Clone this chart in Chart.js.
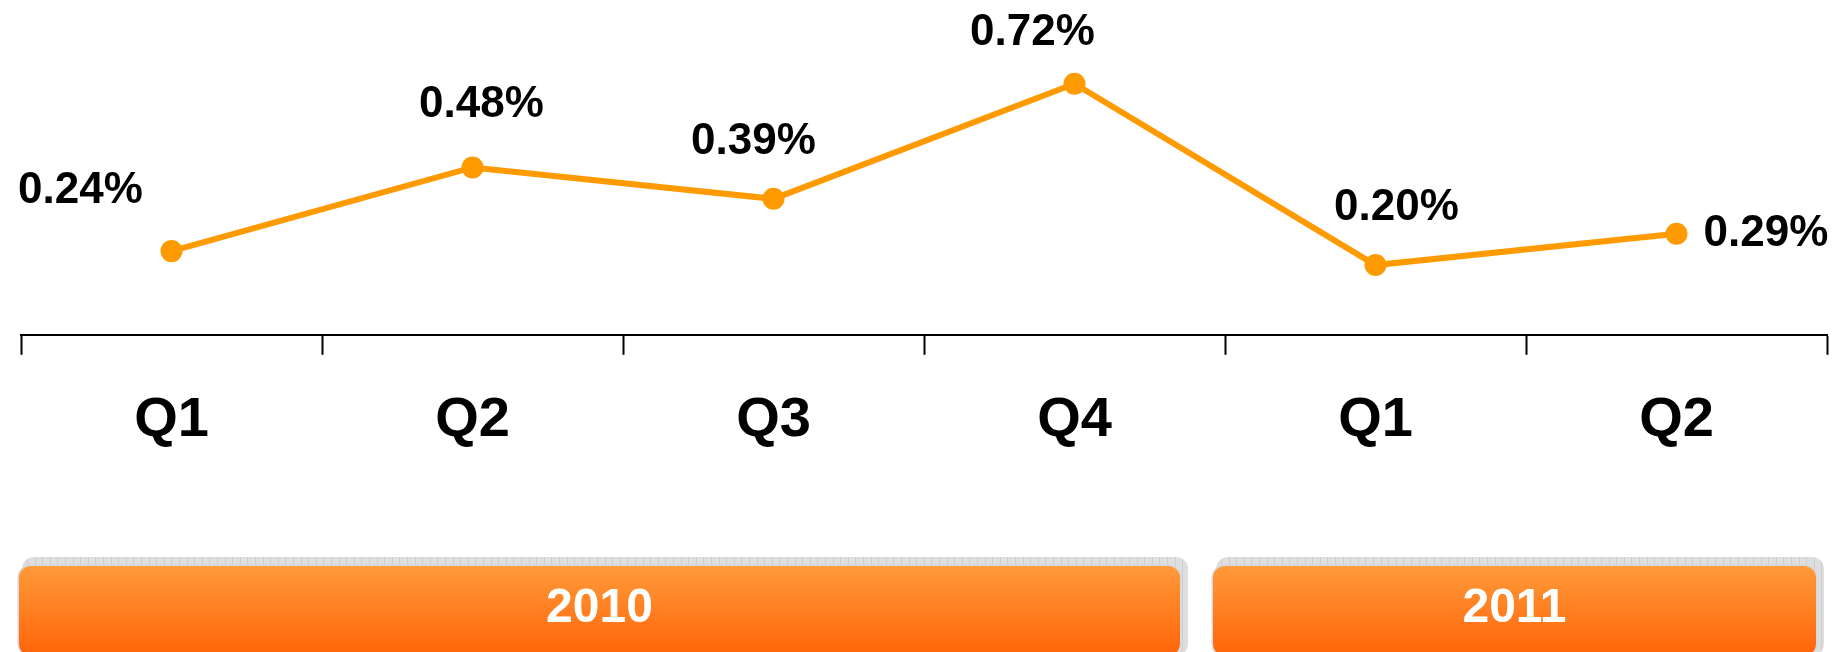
<!DOCTYPE html>
<html>
<head>
<meta charset="utf-8">
<script src="https://cdn.jsdelivr.net/npm/chart.js@4.4.1/dist/chart.umd.min.js"></script>
<style>
  html, body { margin: 0; padding: 0; background: #fff; }
  #wrap { position: relative; width: 1845px; height: 652px; }
</style>
</head>
<body>
<div id="wrap"><canvas id="chart"></canvas></div>
<script>
const quarters = ['Q1', 'Q2', 'Q3', 'Q4', 'Q1', 'Q2'];
const ratios = [0.24, 0.48, 0.39, 0.72, 0.20, 0.29];
const years = ['2010', '2011'];
const quartersPerYear = [4, 2];

const FONT = 'Arial, "Liberation Sans", sans-serif';
const LINE_COLOR = '#ff9a00';

// where each value label sits relative to its point
const labelPlacement = [
    { dx: -91, dy: -60, align: 'center' },
    { dx: 9, dy: -63, align: 'center' },
    { dx: -20, dy: -57, align: 'center' },
    { dx: -42, dy: -51, align: 'center' },
    { dx: 21, dy: -57, align: 'center' },
    { dx: 27, dy: 0, align: 'left' }
];

const valueLabels = {
    id: 'valueLabels',
    afterDatasetsDraw(chart) {
        const ctx = chart.ctx;
        const meta = chart.getDatasetMeta(0);
        ctx.save();
        ctx.font = 'bold 44px ' + FONT;
        ctx.fillStyle = '#000';
        ctx.textBaseline = 'middle';
        meta.data.forEach((pt, i) => {
            const p = labelPlacement[i];
            ctx.textAlign = p.align;
            ctx.fillText(ratios[i].toFixed(2) + '%', pt.x + p.dx, pt.y + p.dy);
        });
        ctx.restore();
    }
};

// year bands under the quarter labels
const yearBands = {
    id: 'yearBands',
    afterDraw(chart) {
        const ctx = chart.ctx;
        const x = chart.scales.x;
        const step = x.getPixelForValue(1) - x.getPixelForValue(0);
        const insets = [[-2, 45], [-12, 11]];
        const top = 566, bottom = 656, r = 12;
        let start = 0;
        years.forEach((yr, g) => {
            const end = start + quartersPerYear[g] - 1;
            const left = x.getPixelForValue(start) - step / 2 + insets[g][0];
            const right = x.getPixelForValue(end) + step / 2 - insets[g][1];
            start = end + 1;

            // grey shadow strip
            ctx.save();
            ctx.beginPath();
            ctx.roundRect(left + 3, top - 9, right - left + 5, bottom - top + 9, r);
            ctx.fillStyle = '#dedede';
            ctx.fill();
            ctx.clip();
            ctx.strokeStyle = '#cdcdcd';
            ctx.lineWidth = 1;
            for (let lx = left + 8; lx < right + 8; lx += 7.6) {
                ctx.beginPath();
                ctx.moveTo(Math.round(lx) + 0.5, top - 9);
                ctx.lineTo(Math.round(lx) + 0.5, bottom);
                ctx.stroke();
            }
            ctx.restore();

            // orange band
            ctx.save();
            ctx.beginPath();
            ctx.roundRect(left, top, right - left, bottom - top, r);
            ctx.strokeStyle = '#d3d8dd';
            ctx.lineWidth = 3;
            ctx.stroke();
            const grad = ctx.createLinearGradient(0, top, 0, 652);
            grad.addColorStop(0, '#ff9a3a');
            grad.addColorStop(1, '#ff660a');
            ctx.fillStyle = grad;
            ctx.fill();

            ctx.font = 'bold 48px ' + FONT;
            ctx.fillStyle = '#fff';
            ctx.textAlign = 'center';
            ctx.textBaseline = 'middle';
            ctx.fillText(yr, (left + right) / 2, 609);
            ctx.restore();
        });
    }
};

new Chart(document.getElementById('chart'), {
    type: 'line',
    data: {
        labels: quarters,
        datasets: [{
            data: ratios,
            borderColor: LINE_COLOR,
            backgroundColor: LINE_COLOR,
            borderWidth: 6,
            pointRadius: 11,
            pointBackgroundColor: LINE_COLOR,
            pointBorderWidth: 0,
            tension: 0,
            fill: false
        }]
    },
    options: {
        responsive: true,
        maintainAspectRatio: false,
        animation: false,
        layout: { padding: { top: 21, left: 21, right: 18, bottom: 166 } },
        plugins: {
            legend: { display: false },
            tooltip: { enabled: false }
        },
        scales: {
            x: {
                offset: true,
                grid: {
                    offset: true,
                    drawOnChartArea: false,
                    drawTicks: true,
                    tickLength: 20,
                    tickColor: '#000',
                    tickWidth: 2
                },
                border: { display: true, color: '#000', width: 2 },
                ticks: {
                    color: '#000',
                    padding: 32,
                    font: { family: FONT, size: 56, weight: 'bold' }
                }
            },
            y: {
                display: false,
                min: 0,
                max: 0.9
            }
        }
    },
    plugins: [valueLabels, yearBands]
});
</script>
</body>
</html>
